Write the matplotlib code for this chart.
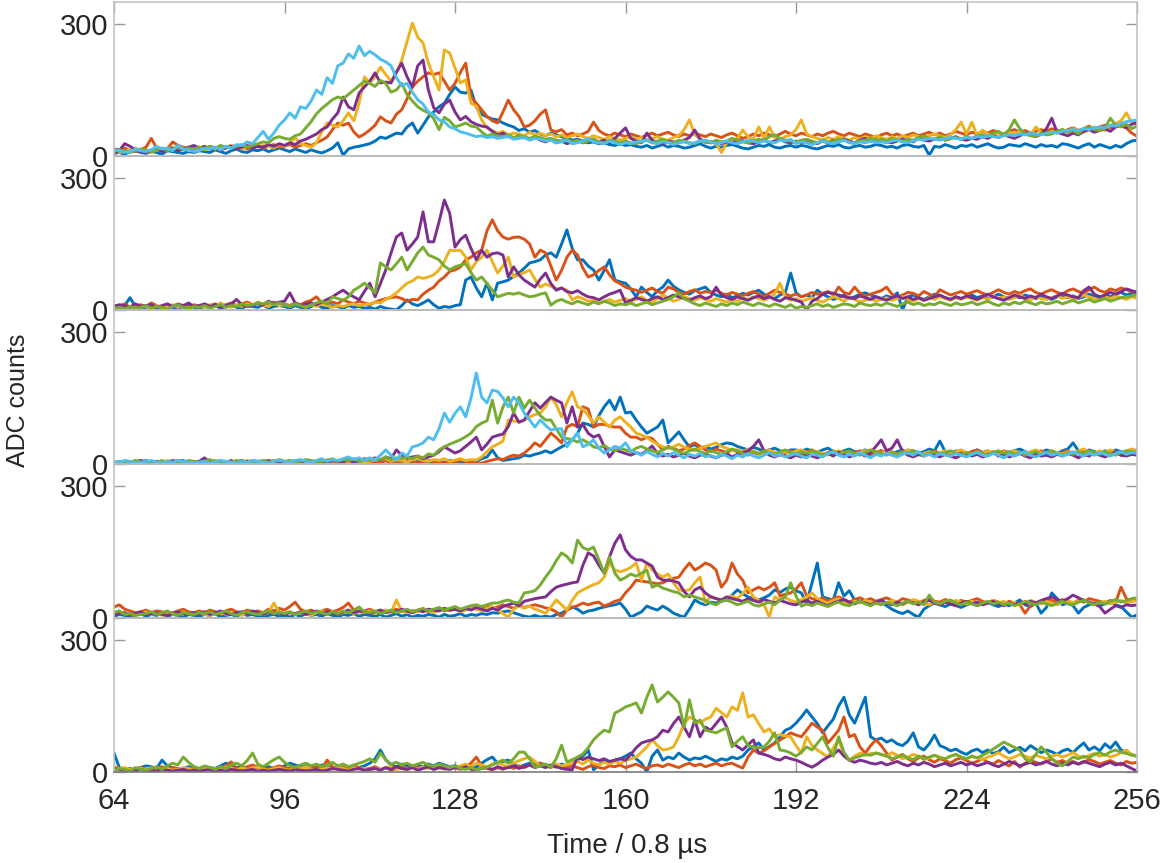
import matplotlib
matplotlib.use("Agg")
import matplotlib.pyplot as plt

plt.rcParams['font.family'] = ['Liberation Sans', 'DejaVu Sans']

# time axis (samples of 0.8 us)
t = list(range(64, 257))

# ---- panel 1 ----
blue_1 = [6,8,4,10,12,8,6,10,8,4,12,10,8,6,10,8,
          12,10,8,14,10,6,12,16,10,8,14,12,16,10,14,18,
          14,10,16,12,8,14,10,7,12,18,30,2,16,20,22,25,
          28,34,43,40,46,52,50,66,75,52,70,89,100,112,120,140,
          157,145,143,150,111,95,89,84,82,75,70,66,58,62,54,58,
          50,46,52,48,44,40,36,38,34,30,32,28,30,26,24,28,
          24,26,22,20,24,18,22,26,20,24,22,18,20,24,28,22,
          18,22,20,24,26,22,18,16,20,24,22,26,20,18,22,24,
          20,24,22,18,16,20,24,22,26,20,18,22,24,20,22,26,
          24,20,22,18,24,26,22,20,24,2,22,20,26,22,18,24,
          22,26,20,24,28,22,18,20,26,24,22,28,24,20,26,22,
          24,20,28,26,22,18,24,28,20,26,22,18,24,20,28,34,
          36]
orange_1 = [16,14,18,12,10,14,20,40,18,14,16,32,24,20,16,18,
            20,16,22,18,14,20,24,18,22,16,20,24,18,22,26,20,
            22,26,20,24,28,24,30,36,43,60,75,70,75,55,43,50,
            59,70,89,80,75,95,105,130,157,170,180,189,185,189,170,150,
            165,190,211,134,120,105,90,80,75,100,127,105,90,66,70,80,
            95,105,59,55,60,48,52,46,50,56,77,58,50,46,52,48,
            44,50,46,42,48,52,46,50,54,48,44,50,46,52,48,44,
            50,46,42,48,52,46,40,44,50,46,52,48,44,50,56,50,
            46,52,48,44,50,46,52,56,50,46,52,48,44,50,46,42,
            48,52,46,50,44,48,52,46,50,54,48,52,46,50,56,52,
            48,54,50,56,52,58,54,50,56,60,54,58,52,56,60,56,
            62,58,54,60,64,58,62,68,60,66,70,64,72,68,64,52,
            45]
yellow_1 = [12,8,10,14,18,12,10,8,14,12,16,20,14,18,12,16,
            20,14,18,16,22,18,24,20,16,22,26,20,24,22,18,26,
            22,30,42,28,24,20,30,55,75,70,66,80,98,80,120,180,
            166,180,202,185,170,190,218,260,302,270,257,211,180,150,241,234,
            200,166,173,120,113,82,64,58,52,56,48,52,50,46,54,48,
            52,46,50,44,48,42,46,50,44,40,46,42,38,44,40,36,
            40,44,38,42,36,40,44,38,36,42,46,60,82,48,40,30,
            34,28,8,30,36,40,59,44,38,66,40,66,42,38,44,48,
            60,82,50,44,40,36,42,38,44,40,36,42,38,44,40,46,
            42,38,44,40,46,42,48,44,40,46,50,46,42,48,60,77,
            50,77,46,59,50,46,52,48,54,50,56,52,48,66,54,50,
            56,52,60,56,62,58,54,60,66,62,58,70,74,80,98,76,
            72]
purple_1 = [8,12,28,22,14,10,8,12,16,10,14,18,12,16,20,24,
            18,22,16,20,14,18,22,16,20,24,18,22,20,26,22,28,
            24,30,26,34,38,44,50,60,66,84,98,134,112,105,143,157,
            170,189,166,168,166,190,211,180,157,205,218,150,110,98,118,127,
            100,82,90,78,72,68,66,56,48,52,44,40,46,42,38,44,
            36,32,38,30,34,28,32,36,30,34,38,32,36,30,40,52,
            64,40,34,30,52,36,30,28,34,32,30,36,42,59,38,32,
            30,34,28,32,30,36,34,30,28,32,36,30,34,38,32,30,
            34,30,36,32,28,34,30,36,32,38,34,30,36,40,34,32,
            36,32,30,34,38,36,32,40,36,34,38,42,36,40,44,38,
            36,40,38,44,40,46,42,48,44,40,46,52,48,44,50,62,
            86,54,50,46,52,48,56,60,54,58,62,56,66,70,64,72,
            76]
green_1 = [10,14,12,8,12,16,14,10,14,18,12,16,20,14,18,16,
           20,16,22,18,24,20,18,22,26,20,24,28,32,30,40,44,
           40,38,46,50,64,78,96,108,118,128,134,130,140,150,160,170,
           165,158,172,165,145,150,165,140,125,112,104,98,85,60,88,80,
           66,70,75,68,66,55,45,50,46,44,48,42,46,44,40,44,
           42,38,40,36,34,38,32,36,30,34,38,32,30,36,34,30,
           34,30,28,32,36,30,34,38,32,30,36,34,30,28,34,32,
           30,36,32,34,40,36,32,30,34,38,36,44,48,40,36,34,
           32,36,38,34,30,36,32,34,38,36,32,30,34,36,40,36,
           38,34,40,36,34,38,36,42,46,40,38,44,36,40,42,38,
           44,40,46,48,44,52,56,48,60,82,62,50,46,44,52,48,
           50,56,60,54,58,50,62,66,60,58,64,86,70,66,72,62,
           68]
cyan_1 = [14,12,8,10,16,12,10,14,22,16,18,12,24,16,14,10,
          12,18,16,20,14,22,18,26,24,32,28,42,56,38,52,70,
          82,98,86,112,108,125,150,140,178,165,205,211,232,222,250,228,
          238,230,220,214,205,178,160,165,145,128,118,100,95,82,78,66,
          62,55,52,48,44,46,42,44,40,42,45,38,40,42,36,40,
          38,34,36,30,32,36,28,30,34,40,32,30,28,34,30,26,
          30,28,32,34,36,30,28,32,30,26,30,32,28,30,34,36,
          32,28,30,34,30,28,32,36,34,30,34,32,30,36,34,38,
          28,32,30,26,30,34,30,28,32,36,30,28,32,30,34,30,
          32,30,34,36,32,30,34,38,36,40,38,36,40,42,40,38,
          42,40,44,42,46,44,42,46,48,46,50,48,52,50,48,52,
          54,52,56,58,60,58,62,60,64,66,64,70,68,74,78,80,
          82]

# ---- panel 2 ----
blue_2 = [6,4,10,28,8,4,6,10,4,8,12,6,4,8,10,6,
          4,8,6,10,4,8,12,6,4,10,8,6,12,4,8,10,
          8,4,10,6,2,8,12,6,4,10,8,4,10,6,8,4,
          6,2,8,4,2,0,10,23,14,10,16,23,12,4,8,6,
          10,12,68,75,50,30,61,23,61,64,68,76,84,95,107,110,
          114,125,130,120,150,182,140,114,114,100,91,68,90,114,68,64,
          61,48,30,52,40,30,44,52,68,54,46,40,36,44,48,52,
          40,34,30,36,28,32,38,34,40,45,36,30,26,34,40,84,
          39,30,34,28,45,36,30,24,28,34,26,30,36,39,34,30,
          26,32,28,39,0,30,34,28,24,30,36,32,28,24,30,26,
          30,34,28,32,26,30,36,30,26,32,28,34,30,26,32,28,
          24,30,34,28,32,26,30,36,32,28,34,30,36,40,34,38,
          42]
orange_2 = [10,8,14,6,10,12,8,16,10,6,12,8,14,10,6,12,
            8,12,10,14,8,12,16,10,14,18,12,16,10,14,18,12,
            14,10,16,12,18,22,30,16,12,18,14,23,18,14,20,16,
            12,18,22,26,28,30,26,20,24,23,36,45,52,66,75,88,
            91,98,114,120,130,136,180,205,180,166,161,165,166,161,150,120,
            136,130,100,68,90,120,136,125,95,75,80,90,98,80,66,60,
            52,48,45,40,45,50,42,38,52,48,40,36,42,46,38,42,
            40,45,38,34,40,36,32,38,42,36,30,38,45,40,36,32,
            36,30,34,40,36,38,42,34,52,40,36,52,38,32,36,40,
            44,52,36,30,34,40,38,32,42,36,30,46,40,34,38,42,
            36,40,44,38,34,40,46,40,36,42,38,44,48,40,36,42,
            46,40,36,44,48,42,38,46,52,44,40,48,44,50,46,42,
            40]
yellow_2 = [6,10,4,8,12,6,8,4,10,6,8,12,6,10,4,8,
            10,6,12,8,16,10,6,12,8,14,10,18,12,8,16,10,
            12,8,14,10,6,12,8,14,10,6,10,8,12,14,10,12,
            14,18,16,24,30,39,50,61,66,75,72,75,80,91,110,136,
            135,136,120,91,110,120,136,110,84,100,120,75,80,85,91,70,
            52,59,54,48,50,45,23,30,26,20,22,16,20,24,18,22,
            26,20,24,30,22,18,26,34,28,20,24,30,26,22,28,24,
            20,26,22,18,24,20,28,24,30,26,22,28,36,61,30,22,
            26,20,24,28,22,18,24,30,26,20,28,24,18,22,26,20,
            24,28,22,26,30,24,20,26,22,28,24,30,26,22,28,24,
            30,26,22,28,24,32,26,30,24,28,34,26,22,30,26,24,
            28,32,26,30,24,28,34,30,26,22,30,26,32,28,24,30,
            26]
purple_2 = [8,12,10,6,14,8,10,12,6,10,14,8,12,10,16,8,
            10,14,8,12,6,10,14,24,12,8,10,16,12,20,14,18,
            20,39,16,10,14,16,12,18,24,30,38,45,36,30,23,42,
            61,30,60,91,130,166,175,136,150,166,223,155,155,200,250,220,
            143,160,170,140,114,136,120,128,130,125,75,98,80,68,60,52,
            70,84,60,45,50,42,39,44,36,30,28,23,30,36,40,45,
            16,22,28,24,20,26,30,24,28,34,30,26,22,28,32,26,
            30,52,34,28,24,30,26,22,28,32,26,30,24,20,28,26,
            22,18,0,20,26,36,40,38,34,30,28,26,32,28,24,30,
            26,22,28,32,26,30,24,28,22,26,30,34,28,24,30,26,
            32,28,24,30,36,30,26,22,28,34,30,26,32,28,36,30,
            26,32,38,34,30,28,44,52,36,30,34,40,36,42,48,44,
            40]
green_2 = [4,6,2,8,4,6,10,4,8,6,2,8,12,6,4,8,
           6,10,4,8,12,6,10,8,14,10,12,16,14,18,12,16,
           12,8,14,10,6,12,16,20,14,30,26,22,30,45,52,61,
           50,39,107,98,91,105,120,91,110,130,143,125,120,114,100,91,
           98,102,105,85,68,75,60,45,30,34,38,36,39,34,30,32,
           36,39,11,20,24,18,14,20,16,12,18,14,20,16,10,14,
           12,16,10,14,18,12,16,20,24,30,39,26,20,14,10,16,
           12,8,14,10,16,12,18,14,10,16,12,8,14,10,6,12,
           4,8,6,10,14,8,12,6,10,14,12,8,16,12,10,14,
           10,16,12,8,14,18,12,16,10,14,12,18,14,10,16,12,
           14,18,12,16,20,14,10,16,12,18,14,20,16,12,18,14,
           16,20,14,18,22,16,20,24,18,22,26,20,24,28,30,32,
           34]

# ---- panel 3 ----
blue_3 = [4,2,6,4,2,4,8,2,4,6,2,4,6,8,2,4,
          6,2,4,8,4,2,6,4,8,2,4,6,2,4,8,4,
          2,4,8,2,4,6,2,4,8,6,2,4,6,2,8,4,
          6,2,4,8,4,2,6,4,2,6,8,4,2,6,4,8,
          6,4,2,8,6,12,16,32,14,8,10,12,14,20,18,22,
          25,30,25,32,39,45,55,70,93,90,84,110,130,145,123,152,
          116,118,100,84,70,77,84,100,48,60,73,55,39,44,36,40,
          34,38,44,48,46,40,36,32,38,34,28,32,36,30,26,32,
          32,28,34,30,26,32,36,28,24,30,34,28,26,32,28,24,
          30,26,22,28,32,26,30,24,28,34,30,52,28,24,30,26,
          22,28,32,26,30,24,28,22,26,30,34,28,24,30,26,32,
          28,24,30,34,48,30,26,32,28,24,30,26,32,28,24,30,
          32]
orange_3 = [2,4,6,2,4,8,2,4,6,2,4,6,8,4,2,6,
            4,2,6,4,8,2,4,6,2,4,8,6,4,2,6,4,
            2,6,4,8,2,4,6,2,8,4,6,2,4,8,6,4,
            2,6,4,8,2,6,4,8,6,2,4,8,6,4,2,6,
            4,8,6,4,2,2,6,9,12,10,16,20,18,25,35,48,
            40,55,70,60,48,84,90,85,130,125,84,90,90,86,84,84,
            70,61,61,55,61,58,45,32,40,36,30,34,42,48,40,32,
            28,34,30,26,32,28,24,30,26,22,28,32,26,20,24,30,
            26,22,28,32,24,20,26,30,24,28,22,26,30,24,20,26,
            30,24,28,22,26,32,28,24,20,26,30,24,28,22,26,30,
            24,28,32,26,22,28,24,30,26,20,24,28,22,26,30,24,
            28,22,26,30,24,28,32,26,22,28,24,30,26,20,28,32,
            28]
yellow_3 = [4,6,2,4,6,8,4,2,6,4,8,6,2,4,6,4,
            2,6,4,8,4,6,2,4,6,8,4,2,6,4,8,6,
            4,8,6,2,4,8,6,4,10,6,8,4,6,10,8,4,
            6,10,8,12,6,10,8,4,10,12,8,6,10,8,12,6,
            9,12,8,10,9,16,28,39,45,52,100,98,95,100,107,112,
            116,130,152,135,107,140,164,130,125,110,93,107,95,84,100,107,
            95,84,70,66,60,52,45,39,36,39,45,38,34,30,36,40,
            44,48,40,36,30,32,28,34,30,24,28,32,26,22,28,24,
            30,32,26,22,28,24,20,26,30,24,28,22,26,30,32,28,
            24,30,26,22,28,32,26,20,24,28,22,26,30,24,28,32,
            26,22,28,24,30,26,20,28,24,30,26,22,28,32,26,24,
            30,26,22,28,24,30,34,28,24,30,26,32,28,24,30,34,
            30]
purple_3 = [2,4,6,2,4,8,4,2,6,4,2,8,4,6,2,4,
            6,14,4,2,6,4,8,2,4,6,4,2,6,8,4,6,
            4,2,6,4,8,4,2,6,4,8,6,4,10,6,8,12,
            10,14,8,16,12,32,20,14,16,18,12,16,20,28,39,32,
            25,30,40,50,61,32,45,61,65,68,85,116,95,100,120,139,
            127,140,152,145,139,93,130,84,90,70,61,66,40,16,32,28,
            24,20,26,22,30,41,24,18,22,16,20,24,18,14,20,22,
            18,14,20,24,16,22,26,30,40,55,30,20,16,22,18,14,
            20,16,22,18,14,20,24,18,27,22,16,20,24,18,26,40,
            55,30,36,55,28,20,16,22,18,24,20,16,22,18,14,20,
            24,18,22,16,20,26,18,22,16,20,24,18,14,22,18,20,
            16,22,18,24,20,14,22,18,26,20,16,22,28,20,18,22,
            20]
green_3 = [4,2,6,4,8,4,2,6,4,8,2,4,6,4,8,6,
           4,6,10,4,2,6,4,8,6,4,2,6,8,4,6,10,
           6,8,4,6,10,8,4,6,8,12,6,10,8,12,6,10,
           8,12,10,16,10,14,12,16,12,18,14,23,20,32,39,45,
           50,55,62,70,85,93,98,145,93,130,152,116,152,127,145,127,
           110,100,100,80,61,58,55,50,55,48,39,36,42,34,30,36,
           32,28,36,40,34,30,26,32,38,34,28,24,30,34,28,24,
           30,26,22,28,34,30,24,20,28,24,30,26,22,28,32,26,
           22,28,24,30,26,20,24,28,22,26,30,24,20,26,32,28,
           24,20,26,22,28,24,30,26,20,24,28,22,26,30,24,20,
           26,22,28,24,20,26,30,24,28,22,26,20,24,28,22,26,
           30,24,20,26,22,28,24,30,26,22,28,24,20,26,30,28,
           26]
cyan_3 = [6,4,8,6,2,4,6,8,4,2,6,4,8,6,4,2,
          4,6,2,4,8,6,4,2,6,4,8,6,4,2,6,8,
          6,4,8,10,6,4,8,12,6,10,8,12,16,10,14,8,
          14,9,20,32,20,9,25,18,39,42,48,61,55,80,116,95,
          115,130,107,150,207,152,139,168,165,150,130,152,139,116,100,84,
          100,88,77,80,80,39,55,70,39,45,55,36,25,32,40,36,
          48,30,26,20,28,22,16,24,18,26,20,14,22,18,24,16,
          20,14,22,18,12,20,16,24,18,14,20,26,18,22,16,20,
          24,18,14,22,20,16,24,28,20,16,22,18,26,20,14,22,
          18,24,20,16,22,26,20,28,18,22,16,24,20,18,24,20,
          16,22,26,20,18,24,20,14,22,18,24,28,20,16,22,26,
          20,24,18,22,28,22,18,24,20,26,22,18,24,28,22,26,
          24]

# ---- panel 4 ----
blue_4 = [4,8,6,2,6,10,4,8,6,10,4,8,6,2,8,6,
          4,8,6,10,2,6,8,4,10,6,8,4,2,6,8,4,
          6,2,8,4,10,6,8,4,10,6,2,8,6,10,4,8,
          6,4,8,2,6,10,4,8,2,6,4,8,6,2,8,4,
          6,10,4,8,6,10,8,12,11,14,16,12,8,4,2,6,
          2,4,2,8,11,18,25,20,11,16,18,22,25,28,30,34,
          20,2,8,14,27,22,18,27,20,11,6,2,20,41,34,30,
          36,34,38,41,52,64,55,48,44,41,46,52,64,58,66,70,
          62,57,34,80,125,48,44,41,80,50,62,41,38,34,30,34,
          36,28,20,14,10,16,8,2,20,28,34,30,26,32,28,24,
          30,34,28,32,36,30,26,32,28,34,41,30,26,34,11,24,
          57,44,30,34,28,11,24,30,34,28,32,36,30,26,14,2,
          7]
orange_4 = [25,30,20,16,12,14,18,12,16,14,10,12,16,20,14,12,
            16,12,18,14,10,16,20,14,12,18,14,16,12,20,16,22,
            18,26,36,20,14,18,12,16,20,14,18,24,34,18,14,16,
            20,14,18,12,16,20,14,18,12,16,20,14,18,22,16,20,
            24,18,22,26,20,24,28,22,25,30,26,22,28,24,27,30,
            27,23,20,14,2,18,24,28,34,30,34,36,27,32,38,41,
            57,70,86,84,82,80,78,80,86,90,93,110,125,109,116,125,
            120,109,70,86,125,100,86,57,64,70,64,70,80,50,54,57,
            66,80,50,44,40,46,38,44,48,42,36,42,46,40,44,38,
            42,46,40,36,44,41,38,34,40,44,38,36,42,38,34,40,
            36,40,44,38,34,40,36,32,38,34,30,11,28,34,38,36,
            40,36,42,38,34,40,36,44,41,38,34,40,36,70,44,38,
            41]
yellow_4 = [14,10,12,8,6,10,14,8,12,6,10,8,12,14,8,10,
            12,8,6,10,14,8,12,10,6,12,14,10,8,12,34,14,
            10,14,8,12,10,6,12,16,10,14,8,12,16,10,14,12,
            16,10,14,18,12,41,16,12,18,14,20,16,12,18,22,16,
            20,14,18,24,20,16,22,26,18,10,2,20,27,22,27,20,
            16,11,25,41,30,18,40,57,64,70,76,80,93,125,109,105,
            109,115,125,86,125,109,100,93,100,80,64,62,64,80,93,34,
            50,44,41,46,50,44,56,70,48,40,30,2,48,42,46,40,
            36,42,48,57,44,38,34,40,44,36,30,38,34,40,36,32,
            38,34,40,36,30,36,42,38,34,30,36,32,38,34,40,36,
            32,38,34,30,36,40,34,38,32,36,30,34,40,36,32,38,
            34,30,36,40,34,38,42,36,30,34,38,32,36,40,34,38,
            40]
purple_4 = [8,10,12,6,10,14,8,10,12,8,6,10,14,10,8,12,
            10,14,8,12,16,10,8,12,14,10,16,12,8,14,10,12,
            8,12,10,14,8,12,16,10,14,12,8,14,18,12,16,14,
            10,14,18,12,16,14,20,16,12,18,14,20,18,16,22,18,
            20,16,22,18,24,20,16,22,18,26,30,34,28,38,41,44,
            46,48,60,70,74,77,80,82,120,148,141,120,102,139,170,189,
            155,140,132,132,125,118,93,86,86,84,80,60,48,64,70,57,
            48,44,41,48,44,41,38,44,40,36,42,38,34,40,36,32,
            30,36,40,34,38,32,28,34,38,42,36,32,38,34,30,36,
            40,34,30,36,32,38,34,30,36,40,34,30,36,32,28,34,
            38,32,36,30,34,38,32,28,34,30,36,32,38,34,40,44,
            48,42,38,44,52,46,40,36,32,26,11,20,28,24,30,28,
            30]
green_4 = [12,16,8,10,6,8,10,14,8,12,16,10,6,12,10,8,
           12,10,14,8,12,16,10,6,12,14,10,8,12,16,10,14,
           10,14,8,12,16,10,14,12,8,14,10,16,12,18,25,14,
           12,16,10,14,18,12,16,20,14,18,22,16,20,24,18,22,
           26,20,24,28,30,26,30,34,34,38,41,36,34,57,59,62,
           75,93,109,130,148,140,125,177,160,155,161,132,102,139,102,86,
           92,100,95,102,109,70,75,68,64,60,57,48,52,48,44,40,
           34,30,38,41,36,30,34,38,30,27,32,36,30,41,48,80,
           50,27,32,28,34,30,26,32,36,30,28,34,38,32,28,34,
           30,36,32,28,34,38,32,36,30,52,36,32,38,41,34,30,
           36,32,28,34,38,32,36,30,34,28,32,38,34,30,36,32,
           28,34,38,32,30,36,40,34,30,36,32,38,42,36,40,44,
           46]

# ---- panel 5 ----
blue_5 = [43,10,6,8,4,10,14,12,8,27,14,10,6,8,12,10,
          6,12,10,8,14,20,16,10,12,8,6,14,10,12,8,10,
          14,20,16,12,18,14,10,16,12,8,14,10,6,12,10,14,
          20,30,50,28,16,12,18,14,10,16,12,18,14,20,16,12,
          14,10,16,12,11,20,28,34,20,24,27,18,11,16,20,18,
          20,16,14,11,18,14,20,27,36,50,5,16,27,22,27,30,
          36,43,30,20,0,36,50,27,34,30,43,34,27,32,30,36,
          30,24,30,27,34,30,36,50,58,66,50,58,66,80,95,100,
          111,125,141,125,110,89,105,120,150,170,130,111,140,170,80,73,
          77,68,73,64,60,70,89,57,50,64,84,60,55,48,52,45,
          40,48,52,44,50,42,46,57,44,50,56,48,60,52,44,50,
          46,40,48,52,44,56,66,50,57,48,64,54,68,50,45,40,
          36]
orange_5 = [12,8,6,4,8,10,6,4,8,12,6,10,8,4,6,10,
            8,12,6,4,10,14,23,8,6,12,16,10,8,6,10,14,
            10,8,12,6,4,10,14,8,27,12,6,10,8,14,10,6,
            8,12,6,10,4,8,12,6,14,10,8,12,6,10,14,8,
            10,6,12,20,34,14,8,5,10,6,12,8,14,10,16,12,
            20,14,10,16,12,8,14,10,6,12,16,10,8,14,12,16,
            10,14,18,12,8,14,16,12,18,14,10,16,20,14,18,12,
            16,20,14,18,20,14,9,34,50,43,48,57,65,73,80,89,
            84,80,95,111,102,95,66,80,95,125,80,85,57,43,60,73,
            60,43,27,34,40,30,24,32,36,28,22,30,26,20,28,32,
            26,20,24,30,22,18,26,20,14,24,11,20,26,22,18,24,
            30,22,26,20,24,18,22,28,24,18,22,26,20,16,24,20,
            22]
yellow_5 = [12,8,10,6,4,8,6,10,4,6,8,4,6,10,8,4,
            6,10,4,8,6,12,8,4,10,6,8,12,6,4,8,10,
            6,4,10,8,12,6,4,8,10,6,12,8,4,10,6,8,
            4,8,6,10,12,6,8,4,10,6,12,8,14,10,6,12,
            10,14,18,12,20,16,12,18,22,16,12,20,26,30,34,24,
            14,16,12,18,14,16,20,24,18,27,20,16,22,18,24,20,
            26,30,34,45,57,73,60,50,52,57,80,110,125,118,111,120,
            125,145,135,125,148,140,180,125,130,110,91,98,80,85,82,80,
            60,43,80,60,50,42,34,55,73,40,27,36,43,38,42,43,
            40,36,44,38,30,34,40,36,28,32,38,34,30,36,40,34,
            30,36,32,28,34,38,44,36,30,34,40,36,32,38,34,30,
            36,40,34,38,44,36,32,38,42,36,40,34,38,44,50,40,
            36]
purple_5 = [8,6,4,2,4,6,2,4,2,6,4,2,4,6,2,4,
            2,4,6,2,4,2,6,4,2,4,6,2,4,2,4,6,
            4,2,6,4,2,4,6,2,4,8,6,4,2,6,8,4,
            6,8,4,10,6,12,8,6,10,4,8,12,6,10,8,6,
            10,8,12,6,5,8,10,6,12,8,10,14,8,12,16,10,
            14,10,16,12,8,6,5,34,28,34,30,26,30,24,27,30,
            27,40,55,66,70,73,80,95,91,110,125,102,80,118,80,102,
            95,110,125,102,66,58,50,62,73,43,40,36,30,27,34,30,
            27,22,16,11,18,27,34,40,50,36,27,22,27,24,20,18,
            22,16,20,24,18,14,20,16,22,18,12,16,20,14,18,22,
            16,20,14,18,22,16,12,18,24,20,14,18,22,16,20,24,
            18,14,20,16,22,18,24,20,16,12,18,22,16,20,14,8,
            2]
green_5 = [4,8,6,2,10,6,4,8,12,6,14,20,16,34,22,12,
           8,14,10,6,12,8,16,20,14,26,43,18,12,20,28,34,
           22,14,10,16,20,14,18,12,16,22,14,18,12,16,20,24,
           30,22,43,28,18,22,16,20,14,18,22,16,12,18,14,10,
           14,8,6,10,5,8,11,16,22,27,20,30,45,45,30,11,
           14,18,11,30,61,23,28,34,41,55,73,85,95,91,134,140,
           148,152,157,134,170,198,159,170,182,170,157,102,164,111,118,95,
           92,89,95,100,57,70,80,60,57,55,57,70,89,50,48,43,
           36,45,57,50,65,80,55,36,80,45,27,32,36,40,38,43,
           40,36,30,34,38,32,28,36,30,34,38,32,30,36,40,34,
           30,36,32,38,44,52,60,68,62,56,50,30,23,40,57,45,
           30,20,14,24,34,30,36,32,40,44,38,46,50,45,42,38,
           36]

panels = [
    [blue_1, orange_1, yellow_1, purple_1, green_1, cyan_1],
    [blue_2, orange_2, yellow_2, purple_2, green_2],
    [blue_3, orange_3, yellow_3, purple_3, green_3, cyan_3],
    [blue_4, orange_4, yellow_4, purple_4, green_4],
    [blue_5, orange_5, yellow_5, purple_5, green_5],
]
colors = ['#0072BD', '#D95319', '#EDB120', '#7E2F8E', '#77AC30', '#4DBEEE']

xticks = [64, 96, 128, 160, 192, 224, 256]

W, H = 1161, 863
fig = plt.figure(figsize=(W / 100, H / 100), dpi=100)

left, right = 114, 1137
ph = 154
for k, series in enumerate(panels):
    bottom = 156 + ph * k
    ax = fig.add_axes([left / W, 1 - bottom / H, (right - left) / W, ph / H])
    ax.patch.set_alpha(0)
    for y, c in zip(series, colors):
        assert len(y) == len(t), (k, len(y))
        ax.plot(t, y, color=c, lw=2.1)
    ax.set_xlim(64, 256)
    ax.set_ylim(0, 350)
    ax.set_yticks([0, 300])
    ax.set_yticklabels(['0', '300'])
    ax.set_xticks(xticks)
    ax.tick_params(axis='both', direction='in', length=8, width=1,
                   color='#9a9a9a', labelsize=21, labelcolor='#262626',
                   left=True, right=True, pad=4)
    for s in ['left', 'right', 'top']:
        ax.spines[s].set_color('#c4c4c4')
        ax.spines[s].set_linewidth(1.2)
    ax.spines['bottom'].set_color('#7a7a7a')
    ax.spines['bottom'].set_linewidth(1.2)
    if k == 0:
        ax.tick_params(axis='x', top=True, bottom=False, labelbottom=False)
    elif k == len(panels) - 1:
        ax.tick_params(axis='x', top=False, bottom=True, labelbottom=True, pad=11)
    else:
        ax.tick_params(axis='x', top=False, bottom=False, labelbottom=False)

fig.text(18 / W, 1 - 400 / H, 'ADC counts', rotation=90, ha='center', va='center',
         fontsize=18, color='#262626')
fig.text(627 / W, 1 - 846 / H, 'Time / 0.8 µs', ha='center', va='center',
         fontsize=20, color='#262626')

fig.savefig('out.png', dpi=100)
